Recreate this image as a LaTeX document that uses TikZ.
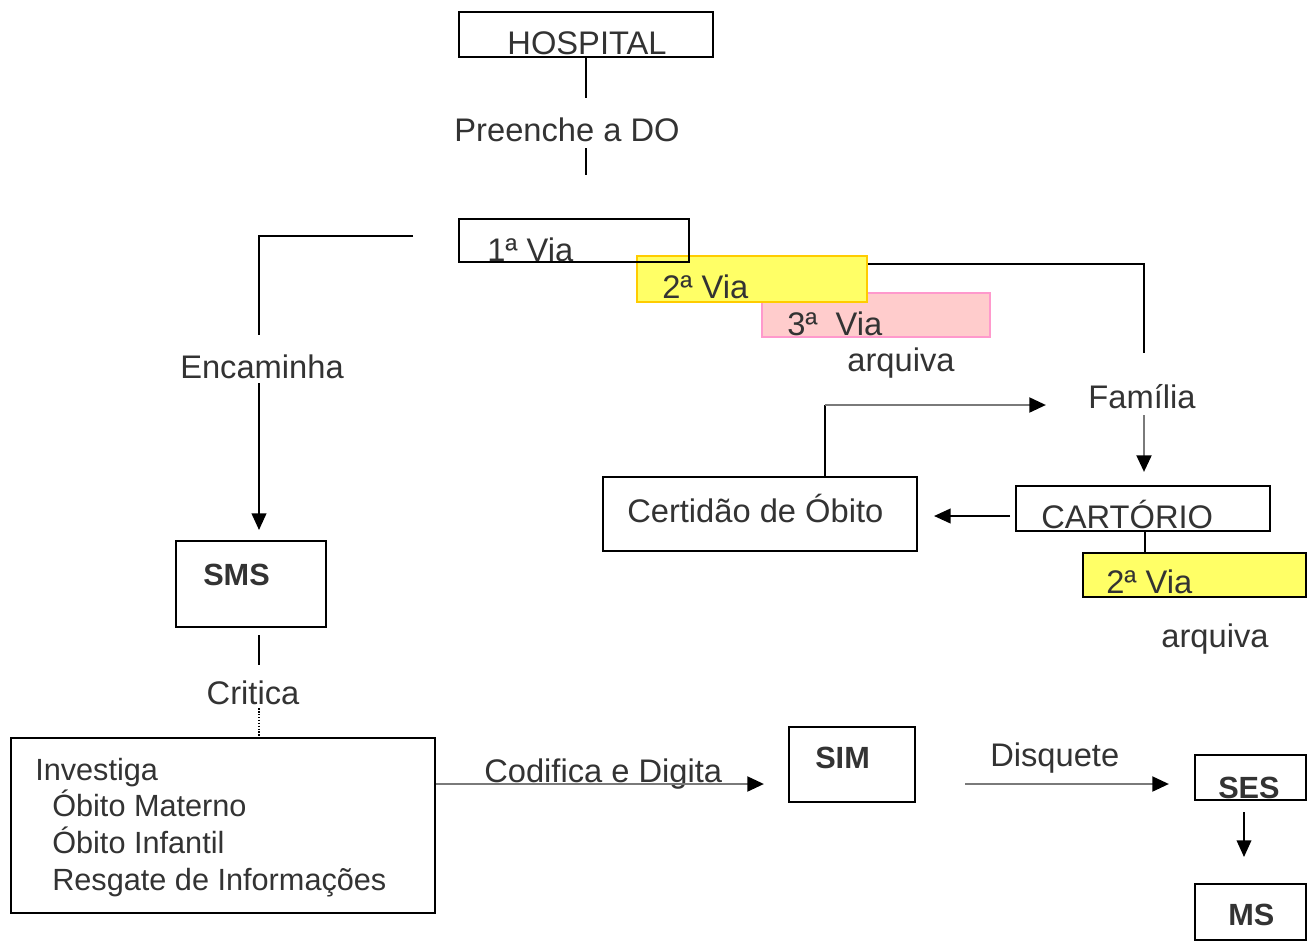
\documentclass[tikz,border=0pt]{standalone}
\usepackage{fontspec}
\setmainfont{Liberation Sans}
\usetikzlibrary{arrows.meta,fit}
\definecolor{txtc}{HTML}{333333}
\definecolor{yelfill}{HTML}{FFFF66}
\definecolor{yeldraw}{HTML}{FFCC00}
\definecolor{pinkfill}{HTML}{FFCCCC}
\definecolor{pinkdraw}{HTML}{FF99CC}
\definecolor{glin}{HTML}{7A7A7A}
\begin{document}
\begin{tikzpicture}[x=0.75pt,y=-0.75pt,
  box/.style={draw=black,line width=1.6pt,inner sep=0pt},
  lbl/.style={text=txtc,inner sep=0pt,font=\fontsize{24.5}{28}\selectfont},
  slbl/.style={lbl,font=\fontsize{23}{27}\selectfont},
  blbl/.style={lbl,font=\fontsize{23}{27}\selectfont\bfseries},
  conn/.style={line width=1.5pt,draw=black},
  gconn/.style={line width=2.2pt,draw=glin},
  tip/.style={-{Triangle[length=12.5pt,width=11pt,color=black]}}]
\useasboundingbox[fill=white] (0,0) rectangle (1307,940);

% boxes
\node[box,fit={(459,12)(713,57)}] (hosp) {};
\node[box,draw=pinkdraw,fill=pinkfill,line width=1.2pt,fit={(762,293)(990,337)}] (v3) {};
\node[box,draw=yeldraw,fill=yelfill,line width=1.4pt,fit={(637,256)(867,302)}] (v2) {};
\node[box,fit={(459,219)(689,262)}] (v1) {};
\node[box,fit={(176,541)(326,627)}] (sms) {};
\node[box,fit={(603,477)(917,551)}] (cert) {};
\node[box,fit={(1016,486)(1270,531)}] (cart) {};
\node[box,fill=yelfill,fit={(1083,553)(1306,597)}] (v2b) {};
\node[box,fit={(11,738)(435,913)}] (inv) {};
\node[box,fit={(789,727)(915,802)}] (sim) {};
\node[box,fit={(1195,755)(1306,800)}] (ses) {};
\node[box,fit={(1195,884)(1306,940)}] (ms) {};

% texts
\node[lbl,anchor=base] (hospT) at (587,54) {HOSPITAL};
\node[lbl,anchor=base] (pdo) at (567,141) {Preenche a DO};
\node[lbl,anchor=base west] (v1T) at (487,261) {1ª Via};
\node[lbl,anchor=base west] (v2T) at (662,298) {2ª Via};
\node[lbl,anchor=base west] (v3T) at (787,335) {3ª\ \ Via};
\node[lbl,anchor=base] (arq1) at (901,371) {arquiva};
\node[lbl,anchor=base] (fam) at (1142,408) {Família};
\node[lbl,anchor=base] (enc) at (262,378) {Encaminha};
\node[blbl,anchor=base west] (smsT) at (203,585) {SMS};
\node[lbl,anchor=base] (crit) at (253,704) {Critica};
\node[lbl,anchor=base west] (certT) at (627,522) {Certidão de Óbito};
\node[lbl,anchor=base west] (cartT) at (1041,528) {CARTÓRIO};
\node[lbl,anchor=base west] (v2bT) at (1106,593) {2ª Via};
\node[lbl,anchor=base] (arq2) at (1215,647) {arquiva};
\node[slbl,anchor=base west] (invT1) at (35,780) {Investiga};
\node[slbl,anchor=base west] (invT2) at (52,816) {Óbito Materno};
\node[slbl,anchor=base west] (invT3) at (52,853) {Óbito Infantil};
\node[slbl,anchor=base west] (invT4) at (52,890) {Resgate de Informações};
\node[lbl,anchor=base west] (cod) at (484,782) {Codifica e Digita};
\node[blbl,anchor=base west] (simT) at (815,768) {SIM};
\node[lbl,anchor=base west] (disq) at (990,766) {Disquete};
\node[blbl,anchor=base west] (sesT) at (1218,798) {SES};
\node[blbl,anchor=base west] (msT) at (1228,925) {MS};

% free ends
\coordinate (h1) at (586,98);
\coordinate (h2) at (586,148);
\coordinate (h3) at (586,175);
\coordinate (e0) at (413,236);
\coordinate (e1) at (259,236);
\coordinate (e2) at (259,335);
\coordinate (e3) at (259,383);
\coordinate (e4) at (259,530);
\coordinate (f0) at (1144,264);
\coordinate (f1) at (1144,353);
\coordinate (f2) at (1144,415);
\coordinate (f3) at (1144,472);
\coordinate (c0) at (825,405);
\coordinate (c1) at (1046,405);
\coordinate (k0) at (1010,516);
\coordinate (k1) at (934,516);
\coordinate (s0) at (259,635);
\coordinate (s1) at (259,665);
\coordinate (s2) at (259,708);
\coordinate (d0) at (764,784);
\coordinate (d1) at (965,784);
\coordinate (d2) at (1169,784);
\coordinate (m0) at (1244,812);
\coordinate (m1) at (1244,857);
\coordinate (kx) at (1145,0);

% connectors
\draw[conn] (hosp.south) -- (h1);
\draw[conn] (h2) -- (h3);
\draw[conn] (e0) -- (e1) -- (e2);
\draw[conn,tip] (e3) -- (e4);
\draw[conn] (v2.east |- f0) -- (f0) -- (f1);
\draw[conn] (cert.north -| c0) -- (c0);
\draw[gconn,tip] (c0) -- (c1);
\draw[gconn,tip] (f2) -- (f3);
\draw[conn,tip] (k0) -- (k1);
\draw[conn] (cart.south -| kx) -- (v2b.north -| kx);
\draw[conn] (s0) -- (s1);
\draw[line width=1.2pt,densely dotted] (s2) -- (inv.north -| s2);
\draw[gconn,tip] (inv.east |- d0) -- (d0);
\draw[gconn,tip] (d1) -- (d2);
\draw[line width=1.2pt,tip] (m0) -- (m1);
\end{tikzpicture}
\end{document}
